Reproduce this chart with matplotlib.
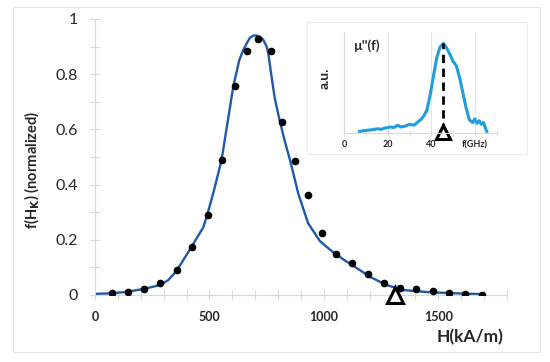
import matplotlib
matplotlib.use("Agg")
import matplotlib.pyplot as plt
from matplotlib.patches import Rectangle

plt.rcParams['font.family'] = ['Lato', 'DejaVu Sans']

# measured points
h_pts = [73, 143, 214, 285, 357, 425, 492, 555, 613, 665, 713, 767, 815, 873,
         931, 993, 1055, 1124, 1191, 1262, 1332, 1402, 1475, 1546, 1616, 1689]
f_pts = [0.006, 0.012, 0.023, 0.045, 0.089, 0.174, 0.29, 0.49, 0.756, 0.884, 0.926,
         0.884, 0.628, 0.484, 0.362, 0.226, 0.149, 0.117, 0.076, 0.042, 0.027,
         0.023, 0.016, 0.008, 0.002, 0.0]

# fitted curve
fit_h = [0, 73, 145, 218, 284, 320, 357, 422, 473, 492, 520, 553, 580, 604, 630,
         648, 665, 677, 692, 706, 720, 735, 750, 757, 764, 775, 786, 808, 830, 852,
         888, 931, 983, 1040, 1092, 1130, 1201, 1274, 1346, 1463, 1608, 1700]
fit_f = [0.004, 0.006, 0.012, 0.023, 0.036, 0.054, 0.088, 0.175, 0.245, 0.295, 0.38,
         0.489, 0.63, 0.755, 0.85, 0.888, 0.915, 0.932, 0.94, 0.94, 0.937, 0.925,
         0.90, 0.876, 0.835, 0.77, 0.71, 0.628, 0.555, 0.489, 0.368, 0.26, 0.195,
         0.155, 0.125, 0.105, 0.066, 0.036, 0.018, 0.010, 0.005, 0.003]

# inset spectrum
mu_f = [7, 9, 11, 13, 15, 17, 19, 21, 23, 24.5, 26, 28, 30, 32, 33.5, 35, 36.5, 38,
        39.5, 41, 42.5, 44, 45.5, 47, 48.5, 50, 51.5, 53, 54.5, 56, 57.5, 59, 60, 61,
        62, 63, 64, 65, 65.5]
mu_v = [0.02, 0.03, 0.035, 0.04, 0.05, 0.045, 0.06, 0.07, 0.065, 0.09, 0.07, 0.08,
        0.10, 0.09, 0.12, 0.15, 0.19, 0.26, 0.43, 0.64, 0.84, 0.96, 1.0, 0.95, 0.88,
        0.80, 0.75, 0.62, 0.45, 0.28, 0.15, 0.12, 0.16, 0.11, 0.14, 0.10, 0.12, 0.05,
        0.02]
peak_f = 45.5
hk_mark = 1310

grey = '#d9d9d9'
txt = '#262626'

fig = plt.figure(figsize=(5.5, 3.62), dpi=100)
fig.patches.append(Rectangle((13/550, 1-352/362), 527/550, 345/362,
                             transform=fig.transFigure, fill=False,
                             edgecolor='#e6e6e6', lw=0.8))

ax = fig.add_axes([95/550, 1-295/362, 412/550, 276/362])
ax.plot(fit_h, fit_f, color='#1f5aa6', lw=1.7, zorder=2)
ax.plot(h_pts, f_pts, 'o', color='black', ms=4.5, zorder=3)
ax.plot([hk_mark], [0.0], marker='^', ms=12, mfc='white', mec='black', mew=2.2,
        clip_on=False, zorder=4)
ax.set_xlim(0, 1800)
ax.set_ylim(0, 1)
for s in ['top', 'right']:
    ax.spines[s].set_visible(False)
for s in ['left', 'bottom']:
    ax.spines[s].set_color(grey)
ax.set_xticks([0, 500, 1000, 1500])
ax.set_xticks(range(0, 1801, 100), minor=True)
ax.set_yticks([0, 0.2, 0.4, 0.6, 0.8, 1])
ax.set_yticklabels(['0', '0.2', '0.4', '0.6', '0.8', '1'])
ax.set_yticks([0.1, 0.3, 0.5, 0.7, 0.9], minor=True)
ax.tick_params(axis='both', which='both', direction='inout', length=7,
               color=grey, width=0.8)
ax.tick_params(axis='y', which='major', labelsize=11.5, labelcolor=txt, pad=9)
ax.tick_params(axis='x', which='major', labelsize=9, labelcolor=txt, pad=8)
for t in ax.get_xticklabels():
    t.set_fontweight('bold')
fig.text(32/550, 1-170/362, 'f(H$_\\mathbf{K}$) (normalized)', rotation=90,
         ha='center', va='center', fontsize=10.5, fontweight='bold', color=txt)
fig.text(504/550, 1-337/362, 'H(kA/m)', ha='right', va='center', fontsize=12.5,
         fontweight='bold', color=txt)

# inset
fig.patches.append(Rectangle((307/550, 1-154/362), 220/550, 132/362,
                             transform=fig.transFigure, fill=True, facecolor='white',
                             edgecolor='#ececec', lw=0.8, zorder=1))
ins = fig.add_axes([344.3/550, 1-133.3/362, 152.3/550, 101.6/362])
ins.set_zorder(5)
ins.plot(mu_f, mu_v, color='#1e9fdc', lw=2.2)
ins.plot([peak_f, peak_f], [0.02, 1.0], color='black', lw=2, ls=(0, (3, 2)))
ins.plot([peak_f], [0.02], marker='^', ms=10, mfc='white', mec='black', mew=2.2,
         clip_on=False)
ins.set_xlim(0, 70)
ins.set_ylim(0, 1.13)
for s in ['top', 'right']:
    ins.spines[s].set_visible(False)
for s in ['left', 'bottom']:
    ins.spines[s].set_color(grey)
ins.set_xticks([0, 20, 40, 60])
ins.set_xticklabels(['0', '20', '40', 'f(GHz)'])
ins.set_xticks(range(0, 71, 10), minor=True)
ins.set_yticks([])
ins.grid(axis='x', which='major', color='#e6e6e6', lw=0.8)
ins.tick_params(axis='x', which='both', direction='inout', length=4, color=grey,
                labelsize=6.5, labelcolor=txt, pad=3)
for t in ins.get_xticklabels():
    t.set_fontweight('bold')
ins.text(4.5, 0.98, "\u00b5''(f)", fontsize=9.5, fontweight='bold', color=txt,
         va='center')
fig.text(325/550, 1-78/362, 'a.u.', rotation=90, ha='center', va='center',
         fontsize=10, fontweight='bold', color=txt)

fig.savefig('out.png', dpi=100)
